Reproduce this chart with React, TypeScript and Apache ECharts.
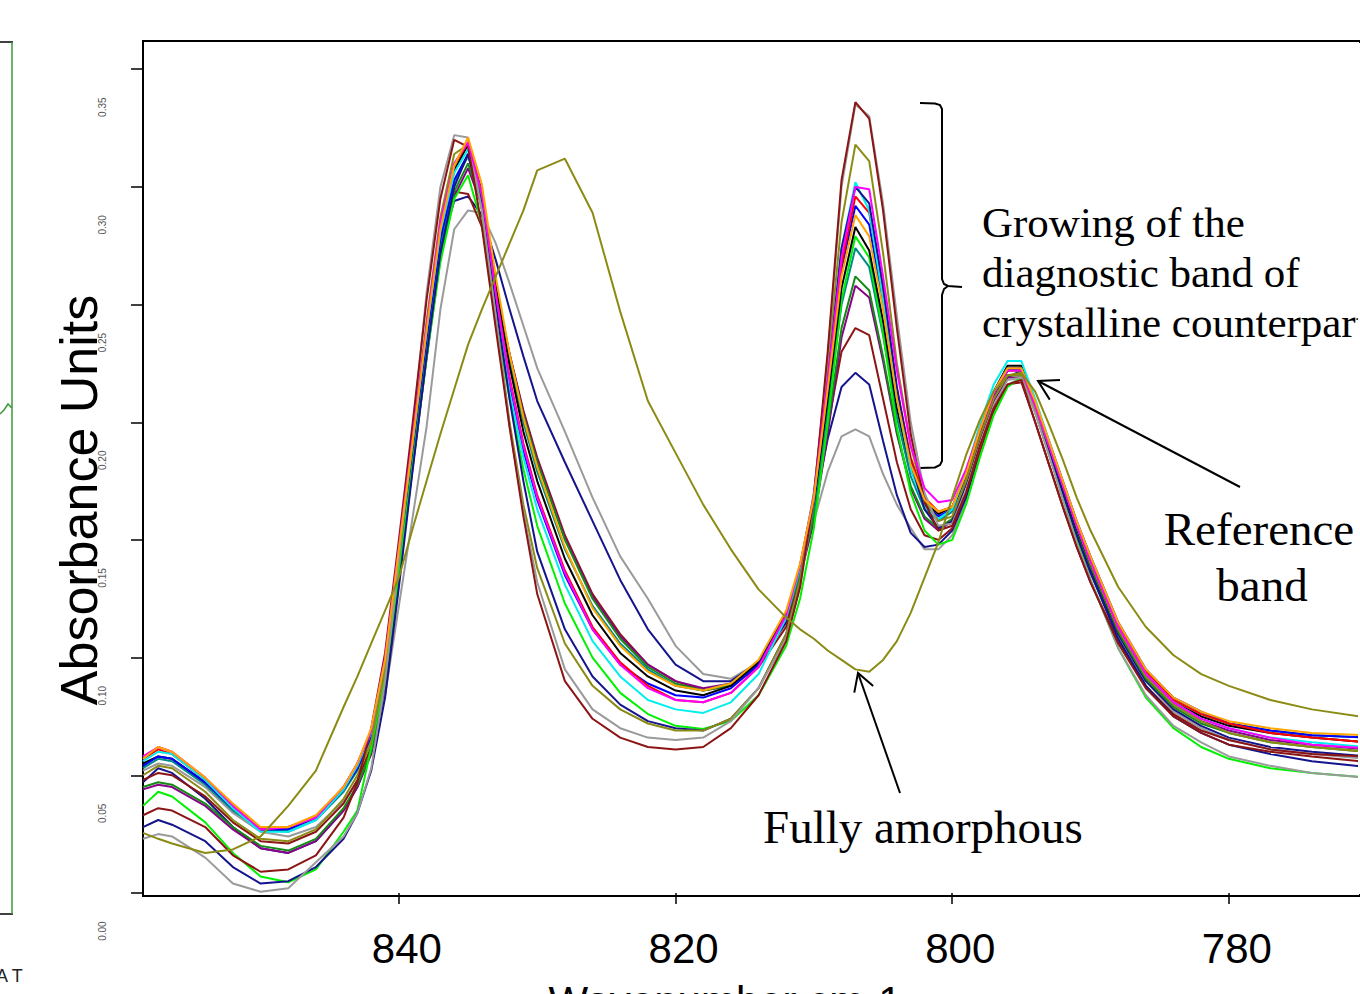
import React, { useEffect, useRef } from "react";
import * as echarts from "echarts";

// Wavenumber grid (cm-1), descending
const WAVENUMBER = [858.5, 857.4, 856.4, 854, 852, 850, 848, 846, 844, 843, 842,
  841, 840, 839, 838, 837, 836, 835, 834, 833, 832, 831, 830,
  828, 826, 824, 822, 820, 818, 816, 814, 812,
  811, 810, 809, 808, 807, 806, 805, 804, 803, 802, 801, 800,
  799, 798, 797, 796, 795, 794, 793, 792, 791, 790, 788, 786, 784, 782, 780, 777, 774, 770];

const X_TICKS = [840, 820, 800, 780];
const Y_TICKS = [0, 0.05, 0.1, 0.15, 0.2, 0.25, 0.3, 0.35];

const greyB = [0.052, 0.055, 0.054, 0.045, 0.034, 0.026, 0.024, 0.028, 0.039, 0.047, 0.059,
  0.084, 0.122, 0.16, 0.198, 0.248, 0.282, 0.29, 0.289, 0.276, 0.259, 0.241, 0.223,
  0.196, 0.168, 0.143, 0.125, 0.105, 0.093, 0.091, 0.098, 0.114,
  0.136, 0.158, 0.179, 0.194, 0.197, 0.194, 0.178, 0.165, 0.155, 0.146, 0.146, 0.152,
  0.166, 0.186, 0.204, 0.216, 0.219, 0.204, 0.186, 0.168, 0.151, 0.136, 0.109, 0.09, 0.077, 0.07, 0.065, 0.061, 0.059, 0.057];
const navyB = [0.047, 0.053, 0.051, 0.04, 0.028, 0.019, 0.017, 0.022, 0.035, 0.045, 0.06,
  0.09, 0.137, 0.186, 0.233, 0.274, 0.294, 0.296, 0.288, 0.269, 0.248, 0.228, 0.209,
  0.183, 0.158, 0.133, 0.112, 0.097, 0.09, 0.09, 0.098, 0.115,
  0.138, 0.163, 0.193, 0.215, 0.221, 0.216, 0.192, 0.169, 0.153, 0.147, 0.148, 0.154,
  0.168, 0.188, 0.206, 0.219, 0.222, 0.206, 0.188, 0.17, 0.153, 0.137, 0.11, 0.09, 0.078, 0.071, 0.066, 0.062, 0.06, 0.058];
const darkredB = [0.048, 0.051, 0.05, 0.041, 0.03, 0.022, 0.021, 0.026, 0.038, 0.048, 0.062,
  0.092, 0.138, 0.185, 0.232, 0.272, 0.298, 0.297, 0.283, 0.256, 0.229, 0.205, 0.185,
  0.152, 0.127, 0.11, 0.097, 0.09, 0.086, 0.088, 0.096, 0.113,
  0.135, 0.162, 0.198, 0.23, 0.24, 0.237, 0.21, 0.183, 0.163, 0.152, 0.15, 0.155,
  0.17, 0.188, 0.205, 0.216, 0.217, 0.2, 0.182, 0.164, 0.147, 0.132, 0.107, 0.088, 0.076, 0.069, 0.065, 0.061, 0.059, 0.058];
const purple = [0.044, 0.046, 0.045, 0.037, 0.027, 0.019, 0.017, 0.022, 0.035, 0.045, 0.059,
  0.088, 0.134, 0.181, 0.227, 0.27, 0.296, 0.308, 0.292, 0.258, 0.229, 0.204, 0.184,
  0.151, 0.126, 0.109, 0.097, 0.09, 0.087, 0.089, 0.098, 0.117,
  0.134, 0.158, 0.195, 0.236, 0.258, 0.253, 0.226, 0.195, 0.172, 0.159, 0.154, 0.158,
  0.174, 0.193, 0.209, 0.219, 0.219, 0.205, 0.188, 0.171, 0.154, 0.139, 0.112, 0.092, 0.08, 0.073, 0.069, 0.065, 0.063, 0.061];
const darkgreen = [0.045, 0.047, 0.046, 0.038, 0.028, 0.02, 0.018, 0.023, 0.036, 0.046, 0.06,
  0.089, 0.135, 0.182, 0.228, 0.271, 0.298, 0.31, 0.293, 0.258, 0.228, 0.203, 0.183,
  0.15, 0.125, 0.108, 0.096, 0.089, 0.086, 0.088, 0.097, 0.117,
  0.135, 0.16, 0.198, 0.24, 0.262, 0.256, 0.228, 0.196, 0.173, 0.16, 0.155, 0.159,
  0.175, 0.194, 0.21, 0.22, 0.22, 0.206, 0.189, 0.171, 0.154, 0.139, 0.111, 0.091, 0.079, 0.072, 0.068, 0.064, 0.062, 0.06];
const teal = [0.053, 0.057, 0.056, 0.046, 0.035, 0.027, 0.026, 0.031, 0.043, 0.052, 0.066,
  0.095, 0.141, 0.187, 0.233, 0.276, 0.302, 0.313, 0.295, 0.258, 0.226, 0.2, 0.179,
  0.146, 0.122, 0.106, 0.095, 0.088, 0.086, 0.089, 0.098, 0.118,
  0.137, 0.163, 0.205, 0.25, 0.274, 0.266, 0.237, 0.202, 0.177, 0.163, 0.158, 0.162,
  0.177, 0.196, 0.212, 0.222, 0.222, 0.208, 0.191, 0.174, 0.157, 0.142, 0.114, 0.094, 0.082, 0.076, 0.072, 0.069, 0.067, 0.066];
const green = [0.037, 0.043, 0.041, 0.03, 0.017, 0.007, 0.0045, 0.01, 0.026, 0.035, 0.062,
  0.092, 0.136, 0.182, 0.227, 0.268, 0.295, 0.305, 0.284, 0.245, 0.21, 0.18, 0.156,
  0.123, 0.1, 0.085, 0.076, 0.071, 0.0697, 0.073, 0.084, 0.105,
  0.125, 0.155, 0.2, 0.252, 0.279, 0.27, 0.238, 0.198, 0.17, 0.154, 0.148, 0.15,
  0.165, 0.185, 0.203, 0.215, 0.219, 0.205, 0.187, 0.168, 0.15, 0.133, 0.104, 0.083, 0.07, 0.062, 0.057, 0.053, 0.051, 0.049];
const black = [0.055, 0.058, 0.057, 0.047, 0.036, 0.027, 0.027, 0.032, 0.044, 0.053, 0.068,
  0.098, 0.145, 0.192, 0.238, 0.281, 0.307, 0.318, 0.298, 0.258, 0.224, 0.196, 0.175,
  0.142, 0.118, 0.102, 0.092, 0.086, 0.084, 0.088, 0.098, 0.119,
  0.138, 0.166, 0.21, 0.257, 0.283, 0.273, 0.243, 0.206, 0.18, 0.166, 0.161, 0.164,
  0.178, 0.197, 0.213, 0.224, 0.224, 0.208, 0.19, 0.172, 0.155, 0.14, 0.112, 0.093, 0.081, 0.075, 0.071, 0.068, 0.066, 0.064];
const blue = [0.054, 0.058, 0.057, 0.047, 0.036, 0.027, 0.027, 0.032, 0.044, 0.053, 0.067,
  0.097, 0.144, 0.19, 0.236, 0.278, 0.303, 0.314, 0.292, 0.252, 0.216, 0.188, 0.167,
  0.135, 0.112, 0.097, 0.089, 0.084, 0.083, 0.087, 0.097, 0.118,
  0.139, 0.168, 0.215, 0.265, 0.292, 0.284, 0.25, 0.21, 0.181, 0.165, 0.16, 0.163,
  0.178, 0.197, 0.213, 0.223, 0.223, 0.209, 0.192, 0.175, 0.158, 0.143, 0.115, 0.095, 0.083, 0.077, 0.072, 0.069, 0.067, 0.066];
const red = [0.057, 0.061, 0.059, 0.048, 0.037, 0.027, 0.028, 0.032, 0.045, 0.055, 0.069,
  0.099, 0.147, 0.193, 0.24, 0.283, 0.309, 0.319, 0.297, 0.255, 0.219, 0.191, 0.169,
  0.137, 0.113, 0.098, 0.088, 0.082, 0.081, 0.085, 0.096, 0.118,
  0.139, 0.168, 0.216, 0.267, 0.296, 0.289, 0.255, 0.214, 0.185, 0.168, 0.162, 0.164,
  0.178, 0.196, 0.212, 0.222, 0.222, 0.208, 0.191, 0.174, 0.157, 0.142, 0.114, 0.094, 0.082, 0.076, 0.072, 0.068, 0.066, 0.064];
const cyan = [0.056, 0.06, 0.059, 0.048, 0.036, 0.026, 0.026, 0.031, 0.044, 0.054, 0.068,
  0.098, 0.145, 0.192, 0.239, 0.281, 0.306, 0.316, 0.292, 0.25, 0.213, 0.185, 0.163,
  0.131, 0.107, 0.092, 0.082, 0.078, 0.0765, 0.081, 0.093, 0.117,
  0.138, 0.17, 0.222, 0.274, 0.302, 0.29, 0.252, 0.21, 0.18, 0.164, 0.159, 0.163,
  0.179, 0.199, 0.216, 0.226, 0.226, 0.21, 0.192, 0.174, 0.156, 0.141, 0.113, 0.093, 0.081, 0.074, 0.07, 0.066, 0.064, 0.062];
const navyA = [0.028, 0.031, 0.029, 0.022, 0.011, 0.004, 0.005, 0.011, 0.023, 0.034, 0.052,
  0.083, 0.13, 0.18, 0.228, 0.272, 0.3, 0.314, 0.293, 0.25, 0.21, 0.175, 0.145,
  0.112, 0.092, 0.08, 0.073, 0.07, 0.069, 0.074, 0.087, 0.11,
  0.132, 0.168, 0.22, 0.274, 0.3, 0.293, 0.258, 0.215, 0.183, 0.163, 0.155, 0.158,
  0.174, 0.194, 0.211, 0.222, 0.223, 0.206, 0.188, 0.17, 0.152, 0.136, 0.108, 0.088, 0.075, 0.068, 0.063, 0.059, 0.056, 0.0535];
const oliveC = [0.05, 0.054, 0.053, 0.043, 0.031, 0.023, 0.022, 0.027, 0.04, 0.05, 0.064,
  0.095, 0.143, 0.192, 0.243, 0.287, 0.314, 0.318, 0.29, 0.245, 0.2, 0.165, 0.138,
  0.106, 0.088, 0.078, 0.072, 0.069, 0.069, 0.074, 0.087, 0.11,
  0.133, 0.17, 0.225, 0.285, 0.318, 0.311, 0.272, 0.225, 0.19, 0.167, 0.158, 0.16,
  0.175, 0.194, 0.21, 0.22, 0.22, 0.206, 0.19, 0.173, 0.156, 0.14, 0.112, 0.092, 0.08, 0.073, 0.068, 0.064, 0.062, 0.06];
const greyA = [0.023, 0.025, 0.024, 0.015, 0.004, 0.0005, 0.002, 0.013, 0.024, 0.034, 0.053,
  0.09, 0.142, 0.196, 0.255, 0.3, 0.322, 0.321, 0.29, 0.245, 0.198, 0.162, 0.132,
  0.095, 0.078, 0.07, 0.066, 0.065, 0.066, 0.073, 0.087, 0.108,
  0.13, 0.167, 0.228, 0.3, 0.335, 0.33, 0.293, 0.245, 0.2, 0.17, 0.156, 0.157,
  0.171, 0.19, 0.207, 0.218, 0.219, 0.204, 0.186, 0.167, 0.149, 0.133, 0.104, 0.084, 0.071, 0.064, 0.058, 0.054, 0.051, 0.049];
const darkredA = [0.033, 0.036, 0.035, 0.028, 0.016, 0.009, 0.01, 0.016, 0.032, 0.047, 0.07,
  0.102, 0.15, 0.2, 0.252, 0.295, 0.32, 0.317, 0.283, 0.24, 0.198, 0.16, 0.127,
  0.09, 0.074, 0.066, 0.062, 0.061, 0.062, 0.07, 0.084, 0.107,
  0.13, 0.168, 0.23, 0.303, 0.336, 0.329, 0.29, 0.24, 0.195, 0.166, 0.154, 0.156,
  0.17, 0.19, 0.206, 0.216, 0.218, 0.2, 0.182, 0.164, 0.147, 0.132, 0.106, 0.087, 0.075, 0.068, 0.063, 0.06, 0.058, 0.0557];
const magenta = [0.058, 0.062, 0.06, 0.049, 0.037, 0.027, 0.028, 0.032, 0.045, 0.055, 0.069,
  0.1, 0.147, 0.194, 0.241, 0.285, 0.31, 0.319, 0.297, 0.255, 0.218, 0.19, 0.168,
  0.136, 0.112, 0.097, 0.087, 0.082, 0.081, 0.085, 0.096, 0.118,
  0.139, 0.169, 0.218, 0.27, 0.3, 0.299, 0.262, 0.222, 0.19, 0.172, 0.166, 0.167,
  0.18, 0.197, 0.212, 0.222, 0.222, 0.207, 0.19, 0.173, 0.156, 0.141, 0.113, 0.093, 0.081, 0.074, 0.07, 0.066, 0.063, 0.0615];
const orange = [0.057, 0.062, 0.06, 0.049, 0.038, 0.028, 0.028, 0.033, 0.045, 0.055, 0.07,
  0.099, 0.146, 0.192, 0.239, 0.282, 0.309, 0.321, 0.301, 0.262, 0.229, 0.202, 0.181,
  0.147, 0.121, 0.105, 0.094, 0.088, 0.086, 0.089, 0.099, 0.12,
  0.14, 0.168, 0.214, 0.262, 0.288, 0.279, 0.248, 0.21, 0.182, 0.167, 0.162, 0.164,
  0.178, 0.197, 0.213, 0.223, 0.223, 0.209, 0.192, 0.175, 0.158, 0.143, 0.115, 0.095, 0.083, 0.077, 0.073, 0.07, 0.068, 0.067];
const amorphous = [0.0255, 0.023, 0.021, 0.017, 0.0185, 0.024, 0.037, 0.052, 0.079, 0.092, 0.106,
  0.12, 0.134, 0.155, 0.175, 0.195, 0.214, 0.233, 0.248, 0.262, 0.276, 0.29, 0.307,
  0.312, 0.289, 0.247, 0.209, 0.187, 0.165, 0.146, 0.129, 0.117,
  0.112, 0.108, 0.103, 0.099, 0.095, 0.094, 0.099, 0.107, 0.119, 0.134, 0.149, 0.168,
  0.186, 0.201, 0.213, 0.22, 0.221, 0.213, 0.199, 0.184, 0.168, 0.154, 0.13, 0.113, 0.101, 0.093, 0.088, 0.082, 0.078, 0.0745];

const SPECTRA = [
  { name: "greyB", color: "#9a9a9a", values: greyB },
  { name: "navyB", color: "#14148c", values: navyB },
  { name: "darkredB", color: "#8b1414", values: darkredB },
  { name: "purple", color: "#8b008b", values: purple },
  { name: "darkgreen", color: "#148b14", values: darkgreen },
  { name: "teal", color: "#008b8b", values: teal },
  { name: "green", color: "#00f000", values: green },
  { name: "black", color: "#000000", values: black },
  { name: "blue", color: "#0000ff", values: blue },
  { name: "red", color: "#ff0000", values: red },
  { name: "cyan", color: "#00eeee", values: cyan },
  { name: "navyA", color: "#14148c", values: navyA },
  { name: "oliveC", color: "#8b8b14", values: oliveC },
  { name: "greyA", color: "#9a9a9a", values: greyA },
  { name: "darkredA", color: "#8b1414", values: darkredA },
  { name: "magenta", color: "#ff00ff", values: magenta },
  { name: "orange", color: "#ffa500", values: orange },
  { name: "amorphous", color: "#8b8b14", values: amorphous },
];

const SANS = "'Liberation Sans', Arial, sans-serif";
const SERIF = "'Liberation Serif', 'Times New Roman', serif";

function arrowHead(tip: number[], tail: number[], len: number) {
  const a = Math.atan2(tail[1] - tip[1], tail[0] - tip[0]);
  const s = Math.PI / 6;
  return [
    [tip[0] + len * Math.cos(a - s), tip[1] + len * Math.sin(a - s)],
    tip,
    [tip[0] + len * Math.cos(a + s), tip[1] + len * Math.sin(a + s)],
  ];
}

export default function App() {
  const ref = useRef<HTMLDivElement>(null);
  useEffect(() => {
    if (!ref.current) return;
    const chart = echarts.init(ref.current, undefined, { renderer: "svg" });
    const refTip = [1038, 381];
    const refTail = [1240, 487];
    const amTip = [858, 673];
    const amTail = [900, 793];
    const option: any = {
      animation: false,
      backgroundColor: "#ffffff",
      grid: [
        { left: 143, top: 41, right: 0, bottom: 98, show: true, borderColor: "#000", borderWidth: 2, backgroundColor: "transparent" },
        { left: 143, top: 41, width: 10, height: 919, show: false },
      ],
      xAxis: [
        {
          type: "value", gridIndex: 0, min: 770.52, max: 858.5, inverse: true,
          axisLine: { show: false }, splitLine: { show: false },
          axisTick: { show: true, customValues: X_TICKS, length: 11, lineStyle: { color: "#000", width: 1.5 } },
          axisLabel: { customValues: X_TICKS, fontSize: 42, color: "#000", fontFamily: SANS, margin: 31, padding: [0, 0, 0, 16] },
        },
        { type: "value", gridIndex: 1, min: 0, max: 1, show: false },
      ],
      yAxis: [
        {
          type: "value", gridIndex: 0, min: -0.0013, max: 0.362,
          axisLine: { show: false }, splitLine: { show: false },
          axisTick: { show: true, customValues: Y_TICKS, length: 12, lineStyle: { color: "#000", width: 1.5 } },
          axisLabel: { show: false },
        },
        {
          type: "value", gridIndex: 1, min: -0.0123, max: 0.3781,
          axisLine: { show: false }, axisTick: { show: false }, splitLine: { show: false },
          axisLabel: {
            customValues: Y_TICKS, rotate: 90, fontSize: 10, color: "#555", fontFamily: SANS, margin: 36,
            formatter: (v: number) => v.toFixed(2),
          },
        },
      ],
      series: SPECTRA.map((s) => ({
        type: "line",
        name: s.name,
        xAxisIndex: 0,
        yAxisIndex: 0,
        data: WAVENUMBER.map((w, i) => [w, s.values[i]]),
        showSymbol: false,
        symbol: "none",
        silent: true,
        clip: true,
        lineStyle: { color: s.color, width: 2 },
      })),
      graphic: [
        // hide the grid's right border at the page edge (the plot box continues beyond the crop)
        { type: "rect", shape: { x: 1358, y: 43, width: 4, height: 851 }, style: { fill: "#fff" }, z: 100 },
        // neighbouring panel fragment
        { type: "line", shape: { x1: 0, y1: 42, x2: 13, y2: 42 }, style: { stroke: "#000", lineWidth: 1.5 } },
        { type: "line", shape: { x1: 0, y1: 914, x2: 13, y2: 914 }, style: { stroke: "#000", lineWidth: 1.5 } },
        { type: "line", shape: { x1: 12, y1: 42, x2: 12, y2: 914 }, style: { stroke: "#3a9a3a", lineWidth: 1.5 } },
        { type: "polyline", shape: { points: [[0, 414], [4, 410], [8, 404], [12, 408]] }, style: { stroke: "#3a9a3a", lineWidth: 1.5, fill: "none" } },
        { type: "text", x: -4, y: 976, style: { text: "A T", fontSize: 18, fontFamily: SANS, fill: "#222", verticalAlign: "middle" } },
        // axis titles
        { type: "text", x: 79, y: 500, rotation: Math.PI / 2, style: { text: "Absorbance Units", fontSize: 52, fontFamily: SANS, fill: "#000", align: "center", verticalAlign: "middle" } },
        { type: "text", x: 725, y: 1001, style: { text: "Wavenumber cm-1", fontSize: 42, fontFamily: SANS, fill: "#000", align: "center", verticalAlign: "middle" } },
        // bracket
        { type: "polyline", shape: { points: [[920, 103], [935, 103.5], [940, 105], [942, 109], [942, 279], [944, 284], [948, 286], [962, 287]] }, style: { stroke: "#000", lineWidth: 2, fill: "none" } },
        { type: "polyline", shape: { points: [[948, 286], [944, 289], [942, 295], [942, 461], [940, 465], [935, 467.5], [920, 468]] }, style: { stroke: "#000", lineWidth: 2, fill: "none" } },
        // annotation texts
        { type: "text", x: 982, y: 222, style: { text: "Growing of the", fontSize: 43, fontFamily: SERIF, fill: "#000", align: "left", verticalAlign: "middle" } },
        { type: "text", x: 982, y: 272, style: { text: "diagnostic band of", fontSize: 43, fontFamily: SERIF, fill: "#000", align: "left", verticalAlign: "middle" } },
        { type: "text", x: 982, y: 322, style: { text: "crystalline counterpart", fontSize: 43, fontFamily: SERIF, fill: "#000", align: "left", verticalAlign: "middle" } },
        { type: "text", x: 1259, y: 529, style: { text: "Reference", fontSize: 47, fontFamily: SERIF, fill: "#000", align: "center", verticalAlign: "middle" } },
        { type: "text", x: 1262, y: 585, style: { text: "band", fontSize: 47, fontFamily: SERIF, fill: "#000", align: "center", verticalAlign: "middle" } },
        { type: "text", x: 763, y: 827, style: { text: "Fully amorphous", fontSize: 47, fontFamily: SERIF, fill: "#000", align: "left", verticalAlign: "middle" } },
        // arrows
        { type: "line", shape: { x1: refTail[0], y1: refTail[1], x2: refTip[0], y2: refTip[1] }, style: { stroke: "#000", lineWidth: 2 } },
        { type: "polyline", shape: { points: arrowHead(refTip, refTail, 22) }, style: { stroke: "#000", lineWidth: 2, fill: "none" } },
        { type: "line", shape: { x1: amTail[0], y1: amTail[1], x2: amTip[0], y2: amTip[1] }, style: { stroke: "#000", lineWidth: 2 } },
        { type: "polyline", shape: { points: arrowHead(amTip, amTail, 20) }, style: { stroke: "#000", lineWidth: 2, fill: "none" } },
      ],
    };
    chart.setOption(option);
    return () => chart.dispose();
  }, []);
  return <div ref={ref} style={{ position: "fixed", left: 0, top: 0, width: 1360, height: 994, background: "#fff" }} />;
}
